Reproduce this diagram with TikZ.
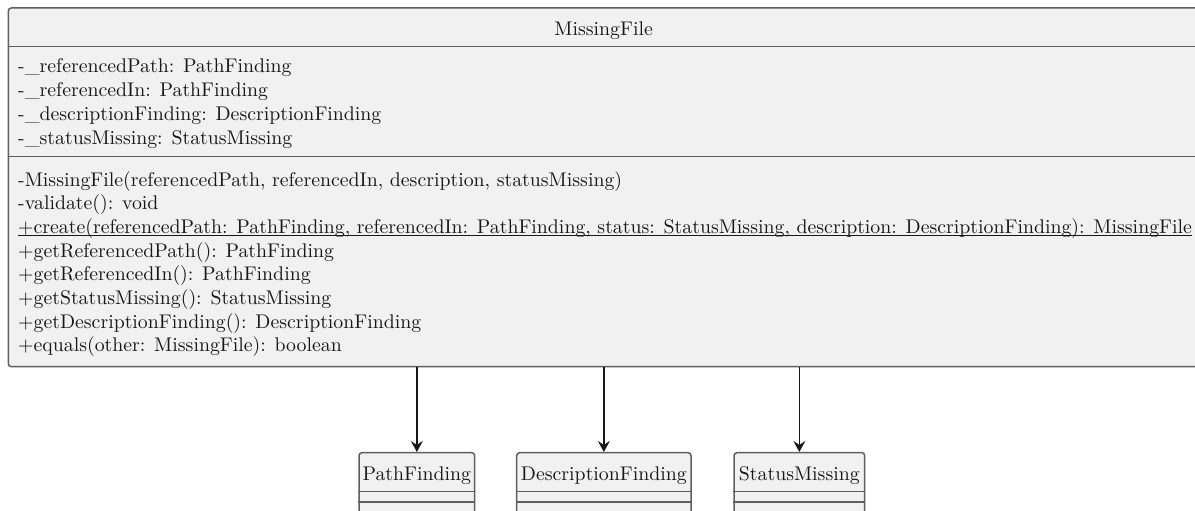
\documentclass[tikz,border=0pt]{standalone}
\usepackage{fontspec}
\setmainfont{lmroman10-regular.otf}
\usetikzlibrary{arrows.meta}

\definecolor{boxfill}{HTML}{F1F1F1}
\definecolor{boxline}{HTML}{5E5E5E}
\definecolor{ink}{HTML}{181818}

\newcommand\createline{+create(referencedPath: PathFinding, referencedIn: PathFinding, status: StatusMissing, description: DescriptionFinding): MissingFile}
\newlength\createwd

\tikzset{
  umlbox/.style={draw=boxline, fill=boxfill, line width=1.5pt, rounded corners=3pt,
    inner sep=0pt},
  sepline/.style={draw=boxline, line width=1.5pt},
  member/.style={anchor=base west, inner sep=0pt, text=ink, font=\umlfont},
  title/.style={anchor=base, inner sep=0pt, text=ink, font=\umlfont},
  assoc/.style={draw=ink, line width=1.5pt, -{Stealth[length=11pt, width=12pt, inset=4pt]}},
}

\begin{document}
% font size chosen so that the longest member line has its full width
\settowidth\createwd{\fontsize{10pt}{12pt}\selectfont\createline}
\pgfmathsetmacro\umlfs{10*1173.7/\createwd}
\xdef\umlfont{\noexpand\fontsize{\umlfs pt}{\umlfs pt}\noexpand\selectfont}
\begin{tikzpicture}[x=1pt, y=-1pt]
  \useasboundingbox (0,0) rectangle (1195,511);
  \clip (0,0) rectangle (1195,511);

  % class MissingFile
  \node[umlbox, minimum width=1190.7pt, minimum height=358.7pt] (mf) at (603.65,187.35) {};
  \node[title] (mftitle) at (603.65,36) {MissingFile};
  \draw[sepline] (mf.west |- 0,46.7) -- (mf.east |- 0,46.7);
  \draw[sepline] (mf.west |- 0,156.7) -- (mf.east |- 0,156.7);

  % attributes
  \node[member] (a1) at (18,73)    {-\_referencedPath: PathFinding};
  \node[member] (a2) at (18,96.7)  {-\_referencedIn: PathFinding};
  \node[member] (a3) at (18,120.4) {-\_descriptionFinding: DescriptionFinding};
  \node[member] (a4) at (18,144.1) {-\_statusMissing: StatusMissing};

  % operations
  \node[member] (m1) at (18,186)   {-MissingFile(referencedPath, referencedIn, description, statusMissing)};
  \node[member] (m2) at (18,209.7) {-validate(): void};
  \node[member] (m3) at (18,233.4) {\createline};
  \draw[draw=ink, line width=1pt] ([yshift=-2.2pt]m3.base west) -- ([yshift=-2.2pt]m3.base east);
  \node[member] (m4) at (18,257.1) {+getReferencedPath(): PathFinding};
  \node[member] (m5) at (18,280.8) {+getReferencedIn(): PathFinding};
  \node[member] (m6) at (18,304.5) {+getStatusMissing(): StatusMissing};
  \node[member] (m7) at (18,328.2) {+getDescriptionFinding(): DescriptionFinding};
  \node[member] (m8) at (18,351.9) {+equals(other: MissingFile): boolean};

  % referenced classes
  \node[umlbox, minimum width=115.7pt, minimum height=80pt] (pf) at (416.85,492.7) {};
  \node[umlbox, minimum width=174.3pt, minimum height=80pt] (df) at (603.85,492.7) {};
  \node[umlbox, minimum width=130.7pt, minimum height=80pt] (sm) at (799.35,492.7) {};
  \node[title] (pft) at (pf.north |- 0,480) {PathFinding};
  \node[title] (dft) at (df.north |- 0,480) {DescriptionFinding};
  \node[title] (smt) at (sm.north |- 0,480) {StatusMissing};
  \foreach \c in {pf,df,sm}{
    \draw[sepline] (\c.west |- 0,491.7) -- (\c.east |- 0,491.7);
    \draw[sepline] (\c.west |- 0,502) -- (\c.east |- 0,502);
  }

  % associations
  \draw[assoc] (mf.south -| pf.north) -- (pf.north);
  \draw[assoc] (mf.south -| df.north) -- (df.north);
  \draw[assoc] (mf.south -| sm.north) -- (sm.north);
\end{tikzpicture}
\end{document}
